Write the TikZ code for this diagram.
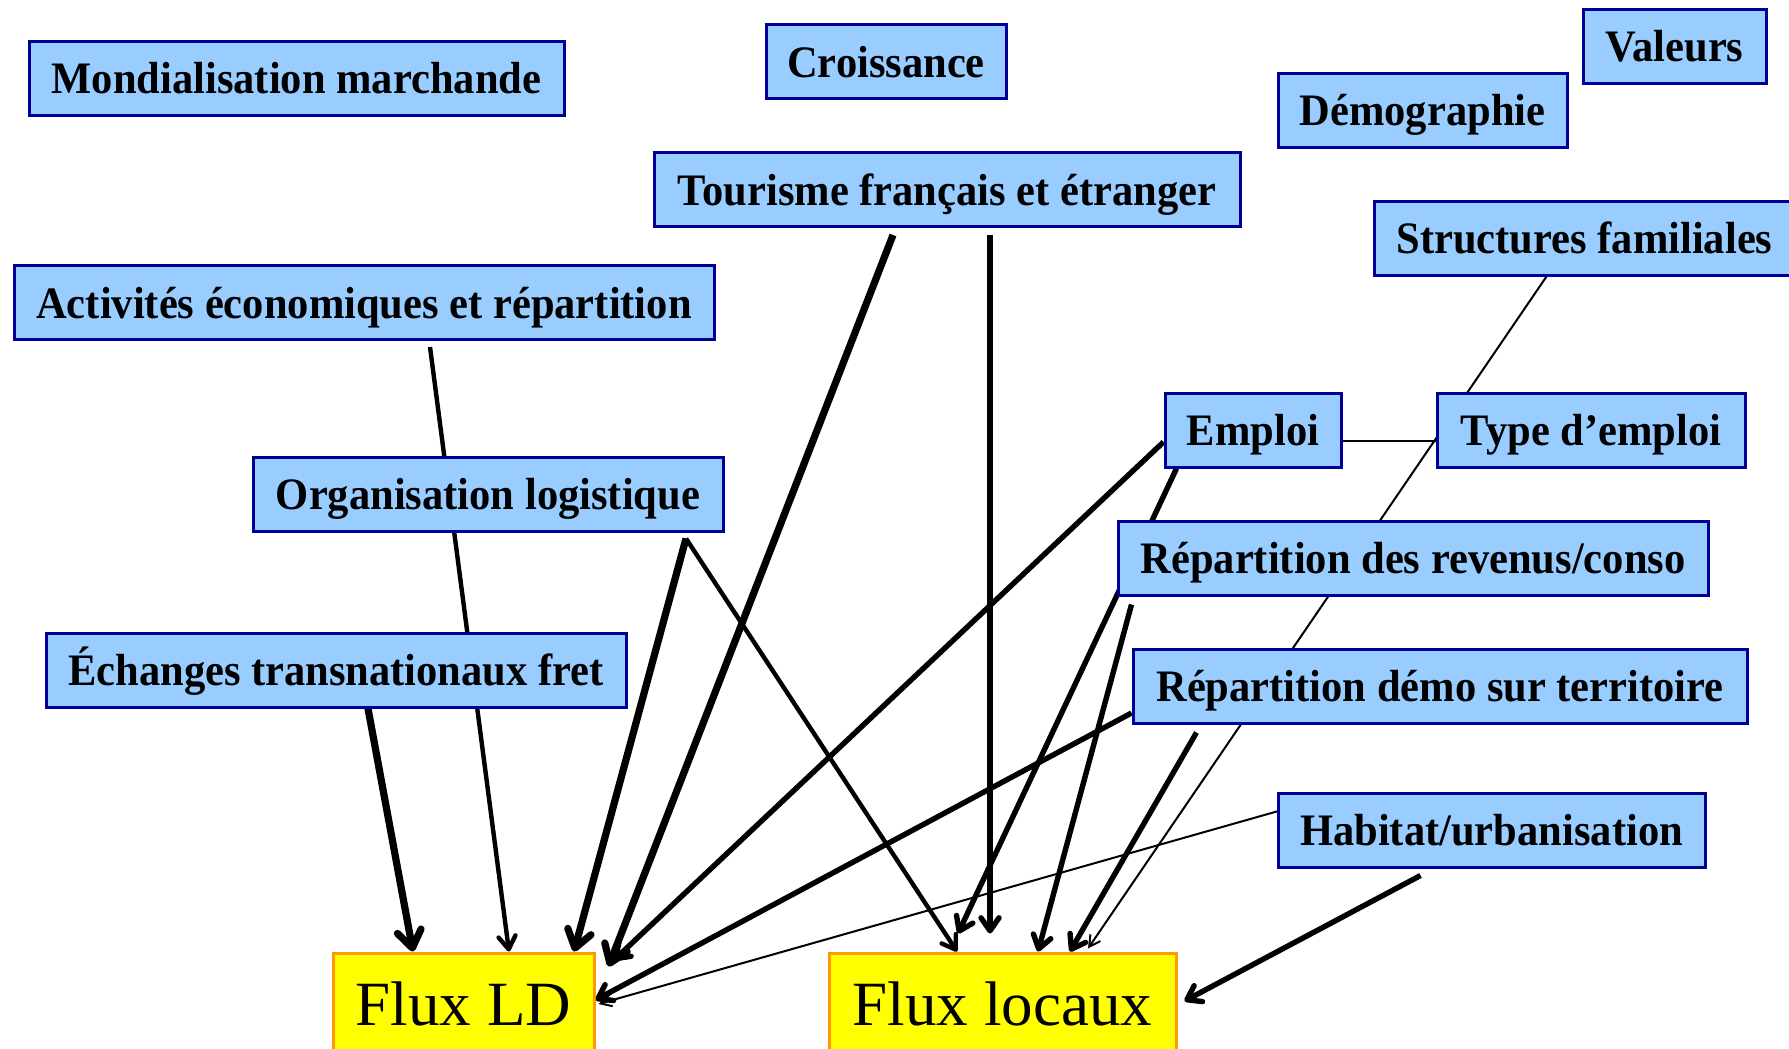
\documentclass[tikz,border=0pt]{standalone}
\usepackage{fontspec}
\setmainfont{Liberation Serif}
\newfontfamily\boxfont{Liberation Serif}[FakeStretch=0.945]
\usetikzlibrary{arrows.meta,backgrounds}
\definecolor{boxBlue}{HTML}{99CCFF}
\definecolor{boxNavy}{HTML}{000099}
\definecolor{fluxYellow}{HTML}{FFFF00}
\definecolor{fluxOrange}{HTML}{FF9900}
\tikzstyle{boxStyle}=[shape = rectangle, draw = boxNavy, line width = 1.5pt, fill = boxBlue, minimum height = 37pt, inner sep = 0pt, text height = 15.75pt, text depth = 0pt, font = \boxfont\bfseries\fontsize{22.5}{27}\selectfont]
\tikzstyle{fluxStyle}=[shape = rectangle, draw = fluxOrange, line width = 1.5pt, fill = fluxYellow, minimum height = 51pt, inner sep = 0pt, text height = 21pt, text depth = 0pt, font = \fontsize{31.5}{38}\selectfont]

\begin{document}
\begin{tikzpicture}[x = 0.5pt, y = -0.5pt]
\tikzstyle{heavyEdge}=[line width = 3.6pt, -{Straight Barb[length = 8.5pt, width = 12pt, round]}]
\tikzstyle{thickEdge}=[line width = 2.7pt, -{Straight Barb[length = 6.5pt, width = 9pt, round]}]
\tikzstyle{mediumEdge}=[line width = 2.2pt, -{Straight Barb[length = 6.5pt, width = 8.5pt, round]}]
\tikzstyle{thinEdge}=[line width = 1pt, -{Straight Barb[length = 5.5pt, width = 6pt]}]
\tikzstyle{plainEdge}=[line width = 1.2pt]
\useasboundingbox (0,0) rectangle (1789,1049);
\clip (0,0) rectangle (1789,1049);
% facteurs
\node[boxStyle, minimum width = 267.5pt] (mond) at (296.5,78) {Mondialisation marchande};
\node[boxStyle, minimum width = 120pt] (crois) at (886,61.5) {Croissance};
\node[boxStyle, minimum width = 91.5pt] (val) at (1674.5,46) {Valeurs};
\node[boxStyle, minimum width = 144.5pt] (demo) at (1422.5,110) {Démographie};
\node[boxStyle, minimum width = 210.5pt] (struct) at (1584.5,238) {Structures familiales};
\node[boxStyle, minimum width = 293pt] (tour) at (947,189.5) {Tourisme français et étranger};
\node[boxStyle, minimum width = 350pt] (activ) at (364,302.5) {Activités économiques et répartition};
\node[boxStyle, minimum width = 235pt] (orga) at (488,494) {Organisation logistique};
\node[boxStyle, minimum width = 290pt] (echan) at (336,670) {Échanges transnationaux fret};
\node[boxStyle, minimum width = 88pt] (emploi) at (1253,430) {Emploi};
\node[boxStyle, minimum width = 154pt] (type) at (1591,430) {Type d’emploi};
\node[boxStyle, minimum width = 295pt] (rrev) at (1413,558) {Répartition des revenus/conso};
\node[boxStyle, minimum width = 307pt] (rdemo) at (1440,686) {Répartition démo sur territoire};
\node[boxStyle, minimum width = 213.5pt] (habitat) at (1491.5,830) {Habitat/urbanisation};
% flux
\node[fluxStyle, minimum width = 130.5pt] (fluxld) at (463.5,1004) {Flux LD};
\node[fluxStyle, minimum width = 173.5pt] (fluxloc) at (1002.5,1004) {Flux locaux};
\begin{scope}[on background layer]
\coordinate (orgaApex) at ([xshift = 99pt, yshift = -3pt]orga.south);
\draw[heavyEdge] ([xshift = 16pt]echan.south) -- ([xshift = -25.25pt]fluxld.north);
\draw[mediumEdge] ([xshift = 33pt, yshift = -3pt]activ.south) -- ([xshift = 22.75pt]fluxld.north);
\draw[heavyEdge] (orgaApex) -- ([xshift = 55.25pt]fluxld.north);
\draw[mediumEdge] (orgaApex) -- ([xshift = -22.75pt]fluxloc.north);
\draw[heavyEdge] ([xshift = -27pt, yshift = -3.5pt]tour.south) -- ([xshift = 6.5pt, yshift = -7.5pt]fluxld.north east);
\draw[thickEdge] ([xshift = 21.5pt, yshift = -3.5pt]tour.south) -- ([xshift = -6.25pt, yshift = 9pt]fluxloc.north);
\draw[thickEdge] ([yshift = -6pt]emploi.west) -- ([xshift = 9pt, yshift = -4.5pt]fluxld.north east);
\draw[thickEdge] ([xshift = 6.5pt]emploi.south west) -- ([xshift = -22.25pt, yshift = 9pt]fluxloc.north);
\draw[plainEdge] ([yshift = -5.5pt]emploi.east) -- ([yshift = -5.5pt]type.west);
\draw[thickEdge] ([xshift = 7.5pt, yshift = -4pt]rrev.south west) -- ([xshift = 17.75pt]fluxloc.north);
\draw[thickEdge] ([yshift = -13.5pt]rdemo.west) -- ([yshift = 2pt]fluxld.east);
\draw[thickEdge] ([xshift = 32.5pt, yshift = -4pt]rdemo.south west) -- ([xshift = 33.75pt]fluxloc.north);
\draw[thinEdge] ([xshift = 87pt]struct.south west) -- ([xshift = 42.75pt, yshift = 1.5pt]fluxloc.north);
\draw[thinEdge] ([xshift = 4.5pt, yshift = 10.5pt]habitat.west) -- ([xshift = 1.5pt]fluxld.east);
\draw[thickEdge] ([xshift = 72pt, yshift = -3.5pt]habitat.south west) -- ([xshift = 3.5pt, yshift = 1.5pt]fluxloc.east);
\end{scope}
\end{tikzpicture}
\end{document}
